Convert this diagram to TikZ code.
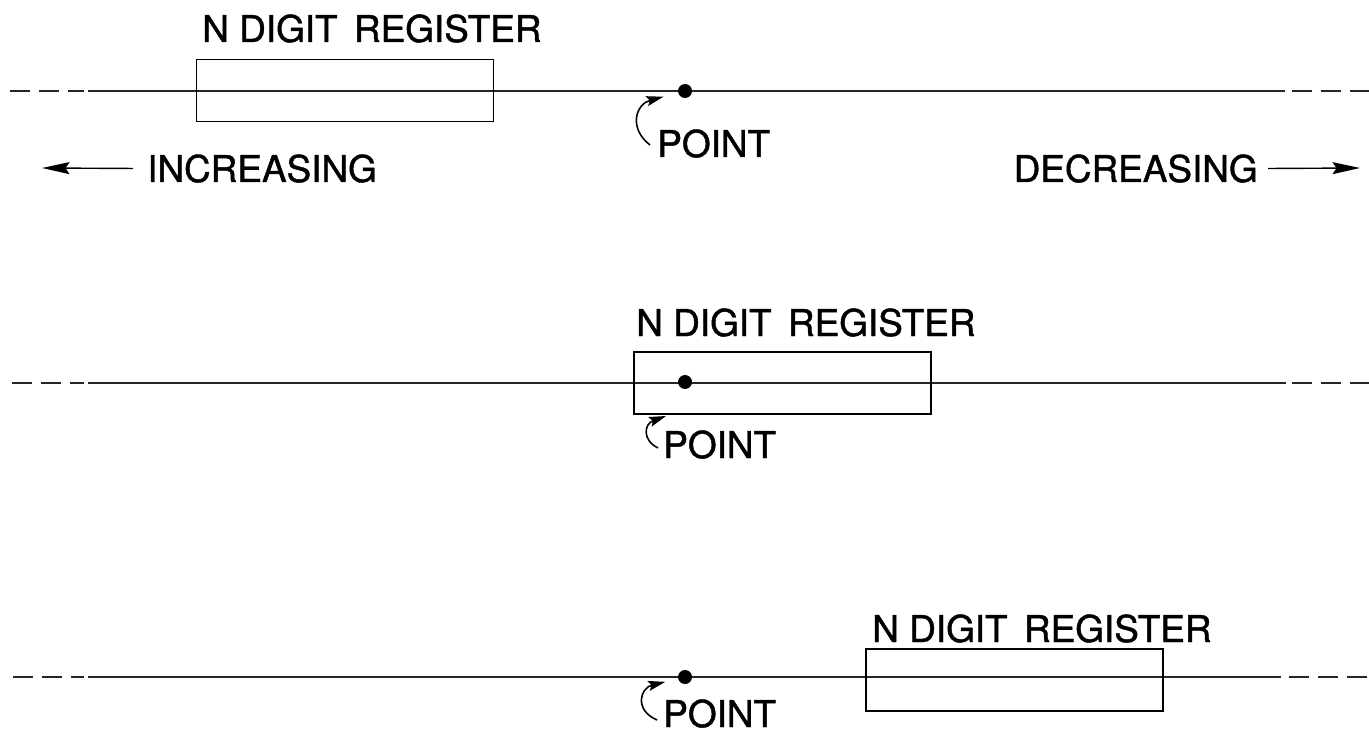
\documentclass[tikz,border=0pt]{standalone}
\usepackage{fontspec}
\setmainfont{TeX Gyre Heros}
\newfontfamily\leroyfont{TeX Gyre Heros}[FakeBold=1.2]
\usepackage{tikz}
\usetikzlibrary{arrows.meta, positioning, calc}
\tikzset{
  reg/.style={
    draw=black, line width=0.9pt, minimum width=5.94cm,
    minimum height=1.24cm, inner sep=0pt
  },
  lbl/.style={font=\leroyfont\fontsize{21}{25}\selectfont, text=black, inner sep=0pt},
  dot/.style={circle, fill=black, inner sep=0pt, minimum size=0.28cm},
  axis/.style={line width=1pt, black!85},
  axisdash/.style={axis, dash pattern=on 0.4cm off 0.18cm},
  ptarr/.style={-{Stealth[length=0.34cm,width=0.2cm,inset=0.06cm]}, line width=0.9pt},
  dirarr/.style={-{Stealth[length=0.55cm,width=0.24cm,inset=0.08cm]}, line width=0.8pt},
}

\begin{document}
\begin{tikzpicture}[x=0.02cm, y=-0.02cm]
    \useasboundingbox (0,0) rectangle (1369,733);

    % first row
    \draw[axisdash] (10,91) -- (84,91);
    \draw[axis] (88,91) -- (1285,91);
    \draw[axisdash] (1292,91) -- (1369,91);
    \node[reg] (reg1) at (345,90.5) {};
    \node[lbl, anchor=base west] (reg1lbl) at (202,42) {N DIGIT\, REGISTER};
    \node[dot] (pt1) at (685,91) {};
    \node[lbl, anchor=base west] (pt1lbl) at (657,157) {POINT};
    \coordinate (pt1from) at (650,145);
    \draw[ptarr, shorten >=0.3cm] (pt1from) .. controls (628,128) and (636,104) .. (pt1);

    \node[lbl, anchor=base west] (inc) at (147,182) {INCREASING};
    \coordinate (incend) at (42,168);
    \draw[dirarr, shorten <=0.28cm] (inc.west) -- (incend);
    \node[lbl, anchor=base east] (dec) at (1258,182) {DECREASING};
    \coordinate (decend) at (1360,168);
    \draw[dirarr, shorten <=0.2cm] (dec.east) -- (decend);

    % second row
    \draw[axisdash] (12,383) -- (84,383);
    \draw[axis] (88,383) -- (1286,383);
    \draw[axisdash] (1292,383) -- (1369,383);
    \node[reg] (reg2) at (782.5,383) {};
    \node[lbl, anchor=base west] (reg2lbl) at (636,336) {N DIGIT\, REGISTER};
    \node[dot] (pt2) at (685,382) {};
    \node[lbl, anchor=base west] (pt2lbl) at (663,458) {POINT};
    \coordinate (pt2from) at (658,448);
    \coordinate (pt2to) at (666,416);
    \draw[ptarr] (pt2from) .. controls (642,440) and (644,424) .. (pt2to);

    % third row
    \draw[axisdash] (13,677) -- (84,677);
    \draw[axis] (88,677) -- (1281,677);
    \draw[axisdash] (1289,677) -- (1369,677);
    \node[reg] (reg3) at (1014.5,680) {};
    \node[lbl, anchor=base west] (reg3lbl) at (872,642) {N DIGIT\, REGISTER};
    \node[dot] (pt3) at (685,677) {};
    \node[lbl, anchor=base west] (pt3lbl) at (663,727) {POINT};
    \coordinate (pt3from) at (657,720);
    \draw[ptarr, shorten >=0.26cm] (pt3from) .. controls (634,710) and (640,688) .. (pt3);
\end{tikzpicture}
\end{document}
